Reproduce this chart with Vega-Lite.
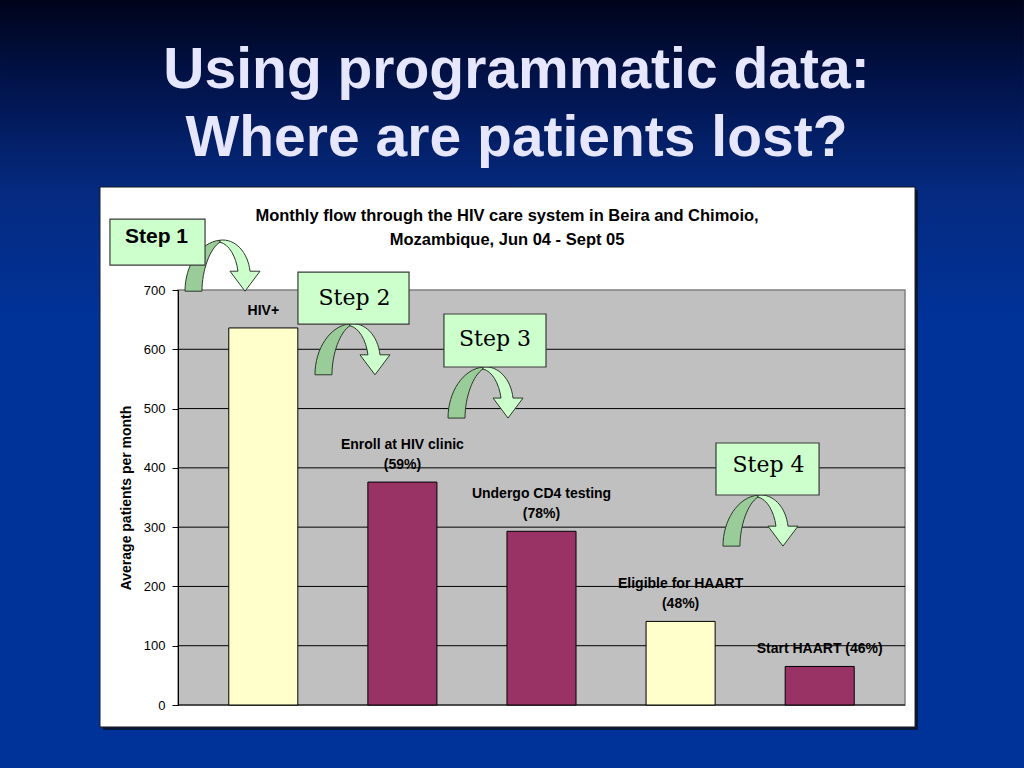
{
  "$schema": "https://vega.github.io/schema/vega-lite/v6.json",
  "width": 727,
  "height": 415,
  "autosize": {"type": "none"},
  "padding": {"left": 178, "top": 290, "right": 119, "bottom": 63},
  "background": "#003399",
  "config": {"view": {"stroke": null}, "font": "Liberation Sans"},
  "title": {
    "text": ["Using programmatic data:", "Where are patients lost?"],
    "font": "Liberation Sans",
    "fontSize": 57,
    "fontWeight": "bold",
    "color": "#E6E6FF",
    "anchor": "middle",
    "frame": "group",
    "baseline": "alphabetic",
    "lineHeight": 68,
    "offset": -213,
    "dx": -25
  },
  "datasets": {
    "panels": [
      {"part": "background", "x": -1.224, "x2": 5.818, "y": -106.3, "y2": 1189.1},
      {"part": "shadow", "x": -0.516, "x2": 5.089, "y": -42.2, "y2": 868.6},
      {"part": "box", "x": -0.5365, "x2": 5.069, "y": -37.1, "y2": 873.7},
      {"part": "plot", "x": 0, "x2": 5, "y": 0, "y2": 700}
    ],
    "gridlines": [{"y": 0}, {"y": 100}, {"y": 200}, {"y": 300}, {"y": 400}, {"y": 500}, {"y": 600}],
    "stages": [
      {"stage": "HIV+", "patients": 636, "kind": "pool"},
      {"stage": "Enroll at HIV clinic", "patients": 376, "kind": "progressed"},
      {"stage": "Undergo CD4 testing", "patients": 293, "kind": "progressed"},
      {"stage": "Eligible for HAART", "patients": 141, "kind": "pool"},
      {"stage": "Start HAART", "patients": 65, "kind": "progressed"}
    ],
    "labels": [
      {"stage": "HIV+", "patients": 636, "text": "HIV+", "tier": 0},
      {"stage": "Enroll at HIV clinic", "patients": 376, "text": "(59%)", "tier": 0},
      {"stage": "Enroll at HIV clinic", "patients": 376, "text": "Enroll at HIV clinic", "tier": 1},
      {"stage": "Undergo CD4 testing", "patients": 293, "text": "(78%)", "tier": 0},
      {"stage": "Undergo CD4 testing", "patients": 293, "text": "Undergo CD4 testing", "tier": 1},
      {"stage": "Eligible for HAART", "patients": 141, "text": "(48%)", "tier": 0},
      {"stage": "Eligible for HAART", "patients": 141, "text": "Eligible for HAART", "tier": 1},
      {"stage": "Start HAART", "patients": 65, "text": "Start HAART (46%)", "tier": 0}
    ],
    "steps": [
      {"step": "Step 1", "bx": -0.468, "bx2": 0.186, "by": 742, "by2": 819.7, "tx": -0.148, "ty": 789.3, "ax": 0.306, "ay": 741},
      {"step": "Step 2", "bx": 0.825, "bx2": 1.589, "by": 642.6, "by2": 730.3, "tx": 1.214, "ty": 687.3, "ax": 1.2, "ay": 600},
      {"step": "Step 3", "bx": 1.829, "bx2": 2.531, "by": 570.1, "by2": 659.5, "tx": 2.18, "ty": 617.3, "ax": 2.115, "ay": 527},
      {"step": "Step 4", "bx": 3.7, "bx2": 4.409, "by": 354.2, "by2": 441.9, "tx": 4.061, "ty": 404.8, "ax": 4.006, "ay": 311}
    ],
    "heading": [
      {"text": "Monthly flow through the HIV care system in Beira and Chimoio,\nMozambique, Jun 04 - Sept 05", "x": 2.263, "y": 824.8}
    ]
  },
  "layer": [
    {
      "layer": [
        {
          "data": {"name": "panels"},
          "transform": [{"filter": "datum.part === 'background'"}],
          "mark": {"type": "rect", "color": {"gradient": "linear", "x1": 0, "y1": 0, "x2": 0, "y2": 1, "stops": [{"offset": 0, "color": "#00041a"}, {"offset": 0.1, "color": "#011248"}, {"offset": 0.25, "color": "#052a80"}, {"offset": 0.42, "color": "#003399"}, {"offset": 1, "color": "#003399"}]}},
          "encoding": {
            "x": {"field": "x", "type": "quantitative", "scale": {"domain": [0, 5], "nice": false, "zero": false}, "axis": null},
            "x2": {"field": "x2"},
            "y": {"field": "y", "type": "quantitative", "scale": {"domain": [0, 700], "nice": false}},
            "y2": {"field": "y2"}
          }
        },
        {
          "data": {"name": "panels"},
          "transform": [{"filter": "datum.part === 'shadow'"}],
          "mark": {"type": "rect", "color": "#061638"},
          "encoding": {
            "x": {"field": "x", "type": "quantitative", "scale": {"domain": [0, 5], "nice": false, "zero": false}, "axis": null},
            "x2": {"field": "x2"},
            "y": {"field": "y", "type": "quantitative", "scale": {"domain": [0, 700], "nice": false}},
            "y2": {"field": "y2"}
          }
        },
        {
          "data": {"name": "panels"},
          "transform": [{"filter": "datum.part === 'box'"}],
          "mark": {"type": "rect", "fill": "#FFFFFF", "stroke": "#1a1a1a", "strokeWidth": 1},
          "encoding": {
            "x": {"field": "x", "type": "quantitative", "scale": {"domain": [0, 5], "nice": false, "zero": false}, "axis": null},
            "x2": {"field": "x2"},
            "y": {"field": "y", "type": "quantitative", "scale": {"domain": [0, 700], "nice": false}},
            "y2": {"field": "y2"}
          }
        },
        {
          "data": {"name": "panels"},
          "transform": [{"filter": "datum.part === 'plot'"}],
          "mark": {"type": "rect", "fill": "#C0C0C0", "stroke": "#808080", "strokeWidth": 1.5},
          "encoding": {
            "x": {"field": "x", "type": "quantitative", "scale": {"domain": [0, 5], "nice": false, "zero": false}, "axis": null},
            "x2": {"field": "x2"},
            "y": {"field": "y", "type": "quantitative", "scale": {"domain": [0, 700], "nice": false}},
            "y2": {"field": "y2"}
          }
        },
        {
          "data": {"name": "gridlines"},
          "mark": {"type": "rule", "color": "#000000", "strokeWidth": 1},
          "encoding": {
            "x": {"datum": 0, "type": "quantitative", "scale": {"domain": [0, 5], "nice": false, "zero": false}, "axis": null},
            "x2": {"datum": 5},
            "y": {"field": "y", "type": "quantitative", "scale": {"domain": [0, 700], "nice": false}}
          }
        }
      ]
    },
    {
      "encoding": {
        "x": {"field": "stage", "type": "nominal", "sort": null, "scale": {"paddingInner": 0.5036, "paddingOuter": 0.365}, "axis": null},
        "y": {
          "field": "patients",
          "type": "quantitative",
          "scale": {"domain": [0, 700], "nice": false},
          "axis": {
            "values": [0, 100, 200, 300, 400, 500, 600, 700],
            "title": "Average patients per month",
            "titleFont": "Liberation Sans",
            "titleFontSize": 14,
            "titleFontWeight": "bold",
            "titleColor": "#000000",
            "titlePadding": 10,
            "labelFont": "Liberation Sans",
            "labelFontSize": 13,
            "labelColor": "#000000",
            "labelPadding": 7,
            "tickSize": 6,
            "tickColor": "#000000",
            "domainColor": "#000000",
            "grid": false,
            "zindex": 1
          }
        }
      },
      "layer": [
        {
          "data": {"name": "stages"},
          "mark": {"type": "bar", "stroke": "#000000", "strokeWidth": 1},
          "encoding": {
            "color": {"field": "kind", "type": "nominal", "scale": {"domain": ["pool", "progressed"], "range": ["#FFFFCC", "#993366"]}, "legend": null}
          }
        },
        {
          "data": {"name": "labels"},
          "transform": [{"filter": "datum.tier === 0"}],
          "mark": {"type": "text", "baseline": "middle", "dy": -17, "fontSize": 14, "fontWeight": "bold", "color": "#000000"},
          "encoding": {"text": {"field": "text"}}
        },
        {
          "data": {"name": "labels"},
          "transform": [{"filter": "datum.tier === 1"}],
          "mark": {"type": "text", "baseline": "middle", "dy": -37.5, "fontSize": 14, "fontWeight": "bold", "color": "#000000"},
          "encoding": {"text": {"field": "text"}}
        }
      ]
    },
    {
      "data": {"name": "steps"},
      "layer": [
        {
          "mark": {"type": "point", "filled": true, "size": 5625, "fill": "#99CC99", "stroke": "#2b3a2b", "strokeWidth": 1, "opacity": 1, "shape": "M -0.067 -0.68 C -0.6 -0.627 -1 -0.013 -1 0.68 L -0.547 0.68 C -0.547 0.12 -0.333 -0.467 -0.067 -0.627 Z"},
          "encoding": {
            "x": {"field": "ax", "type": "quantitative", "scale": {"domain": [0, 5], "nice": false, "zero": false}, "axis": null},
            "y": {"field": "ay", "type": "quantitative", "scale": {"domain": [0, 700], "nice": false}}
          }
        },
        {
          "mark": {"type": "point", "filled": true, "size": 5625, "fill": "#CCFFCC", "stroke": "#2b3a2b", "strokeWidth": 1, "opacity": 1, "shape": "M -0.067 -0.68 C 0.333 -0.733 0.68 -0.36 0.733 0.147 L 1 0.147 L 0.6 0.68 L 0.2 0.147 L 0.413 0.147 C 0.36 -0.253 0.173 -0.573 -0.067 -0.627 Z"},
          "encoding": {
            "x": {"field": "ax", "type": "quantitative", "scale": {"domain": [0, 5], "nice": false, "zero": false}, "axis": null},
            "y": {"field": "ay", "type": "quantitative", "scale": {"domain": [0, 700], "nice": false}}
          }
        },
        {
          "mark": {"type": "rect", "fill": "#CCFFCC", "stroke": "#3a3a3a", "strokeWidth": 1.2},
          "encoding": {
            "x": {"field": "bx", "type": "quantitative", "scale": {"domain": [0, 5], "nice": false, "zero": false}, "axis": null},
            "x2": {"field": "bx2"},
            "y": {"field": "by", "type": "quantitative", "scale": {"domain": [0, 700], "nice": false}},
            "y2": {"field": "by2"}
          }
        },
        {
          "transform": [{"filter": "datum.step === 'Step 1'"}],
          "mark": {"type": "text", "font": "Liberation Sans", "fontSize": 21, "fontWeight": "bold", "color": "#000000", "baseline": "middle"},
          "encoding": {
            "x": {"field": "tx", "type": "quantitative", "scale": {"domain": [0, 5], "nice": false, "zero": false}, "axis": null},
            "y": {"field": "ty", "type": "quantitative", "scale": {"domain": [0, 700], "nice": false}},
            "text": {"field": "step"}
          }
        },
        {
          "transform": [{"filter": "datum.step !== 'Step 1'"}],
          "mark": {"type": "text", "font": "DejaVu Serif", "fontSize": 22, "color": "#000000", "baseline": "middle"},
          "encoding": {
            "x": {"field": "tx", "type": "quantitative", "scale": {"domain": [0, 5], "nice": false, "zero": false}, "axis": null},
            "y": {"field": "ty", "type": "quantitative", "scale": {"domain": [0, 700], "nice": false}},
            "text": {"field": "step"}
          }
        },
        {
          "data": {"name": "heading"},
          "mark": {"type": "text", "font": "Liberation Sans", "fontSize": 16.5, "fontWeight": "bold", "color": "#000000", "baseline": "middle", "lineBreak": "\n", "lineHeight": 24},
          "encoding": {
            "x": {"field": "x", "type": "quantitative", "scale": {"domain": [0, 5], "nice": false, "zero": false}, "axis": null},
            "y": {"field": "y", "type": "quantitative", "scale": {"domain": [0, 700], "nice": false}},
            "text": {"field": "text"}
          }
        }
      ]
    }
  ],
  "resolve": {"scale": {"x": "independent"}}
}
